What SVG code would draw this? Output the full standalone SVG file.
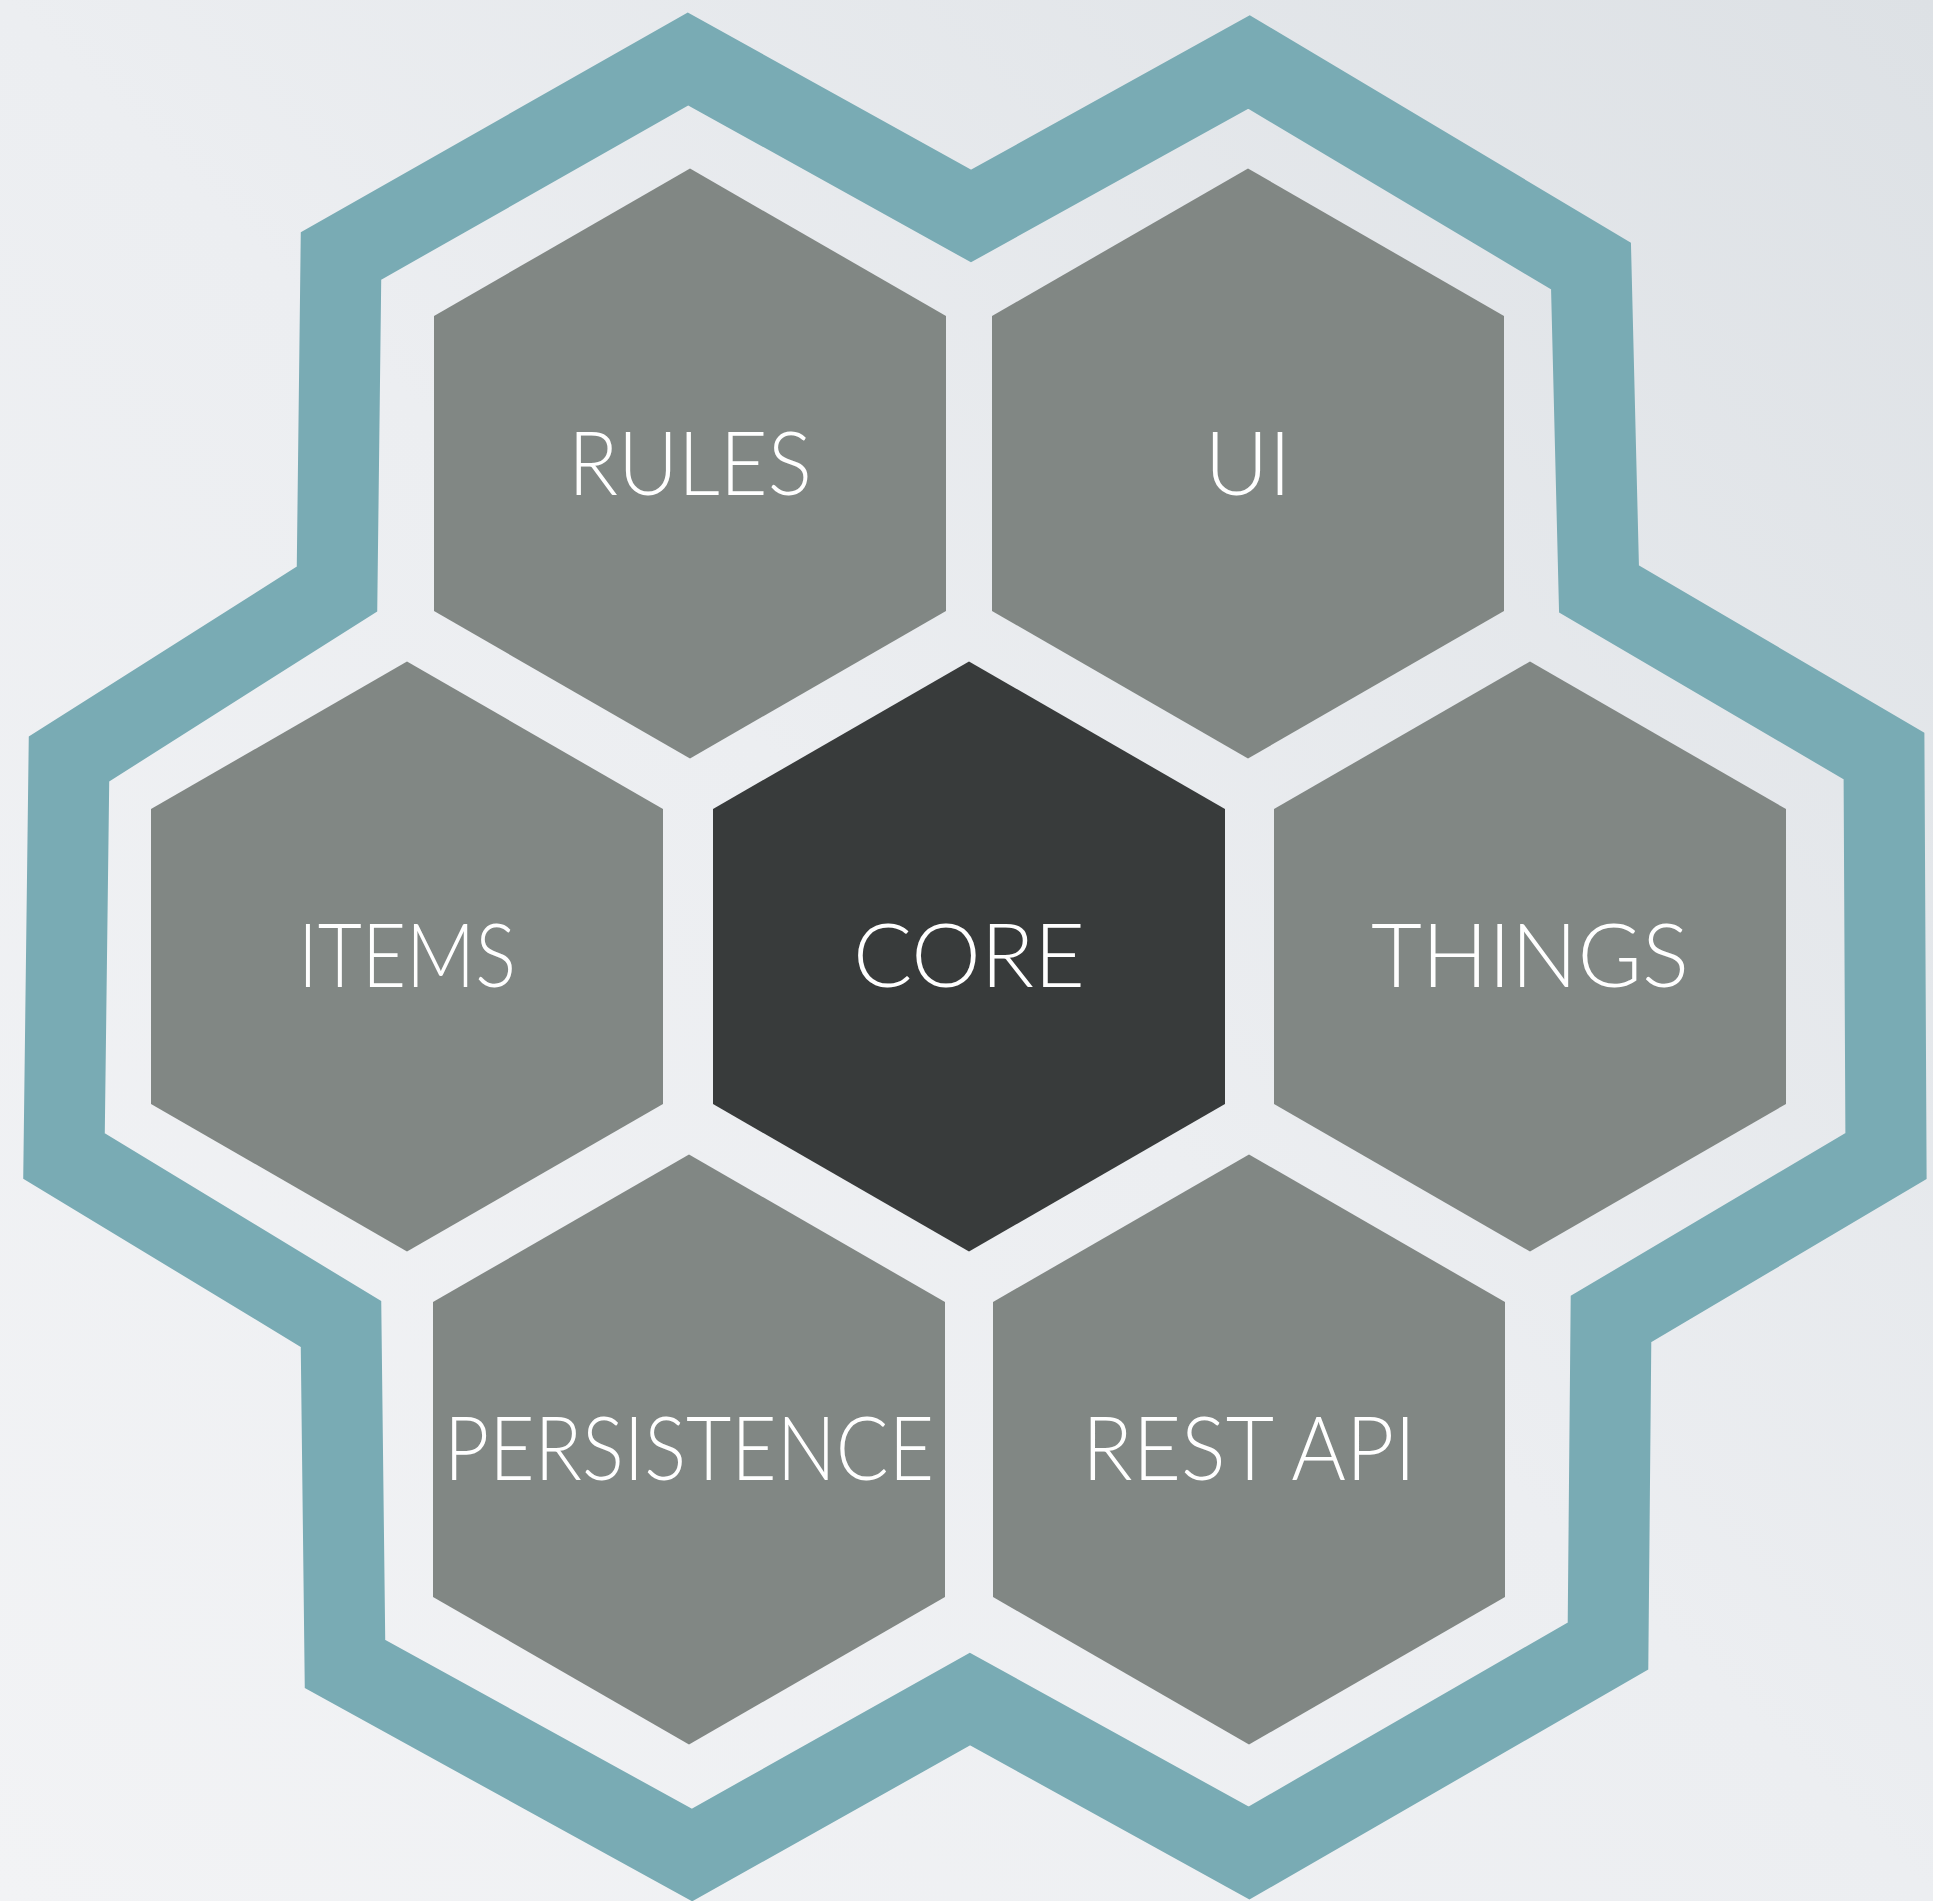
<svg xmlns="http://www.w3.org/2000/svg" width="1933" height="1901" viewBox="0 0 1933 1901">
  <defs>
    <linearGradient id="bg" x1="1" y1="0" x2="0" y2="1">
      <stop offset="0" stop-color="#dde1e5"/>
      <stop offset="0.5" stop-color="#eceef1"/>
      <stop offset="1" stop-color="#f2f3f5"/>
    </linearGradient>
    <polygon id="hex" points="0,-295 256,-147.5 256,147.5 0,295 -256,147.5 -256,-147.5"/>
  </defs>
  <style>
    .hex { fill: #818784; }
    .core { fill: #383b3b; }
    .lbl { font-family: Lato, "Liberation Sans", sans-serif; font-weight: 300; font-size: 88px; fill: #ffffff; text-anchor: middle; }
    .band { fill: none; stroke: #79abb4; stroke-width: 81; stroke-linejoin: miter; stroke-miterlimit: 10; }
  </style>
  <rect x="0" y="0" width="1933" height="1901" fill="url(#bg)"/>

  <g id="connectors">
    <polygon class="band" points="688,59 971,216 1249,62 1591,266 1599,589 1884,756 1886,1156 1611,1319 1608,1646 1249,1853 970,1699 692,1855 345,1664 341,1324 64,1156 69,759 337,589 341,256"/>
  </g>

  <g id="node-rules" transform="translate(690,463.5)">
    <use href="#hex" class="hex"/>
    <text class="lbl" x="0" y="31" textLength="244" lengthAdjust="spacingAndGlyphs">RULES</text>
  </g>
  <g id="node-ui" transform="translate(1248,463.5)">
    <use href="#hex" class="hex"/>
    <text class="lbl" x="0" y="31">UI</text>
  </g>
  <g id="node-items" transform="translate(407,956.5)">
    <use href="#hex" class="hex"/>
    <text class="lbl" x="0" y="30" textLength="218" lengthAdjust="spacingAndGlyphs">ITEMS</text>
  </g>
  <g id="node-core" transform="translate(969,956.5)">
    <use href="#hex" class="core"/>
    <text class="lbl" x="0" y="30" textLength="232" lengthAdjust="spacingAndGlyphs">CORE</text>
  </g>
  <g id="node-things" transform="translate(1530,956.5)">
    <use href="#hex" class="hex"/>
    <text class="lbl" x="0" y="30" textLength="318" lengthAdjust="spacingAndGlyphs">THINGS</text>
  </g>
  <g id="node-persistence" transform="translate(689,1449.5)">
    <use href="#hex" class="hex"/>
    <text class="lbl" x="0" y="30" textLength="490" lengthAdjust="spacingAndGlyphs">PERSISTENCE</text>
  </g>
  <g id="node-restapi" transform="translate(1249,1449.5)">
    <use href="#hex" class="hex"/>
    <text class="lbl" x="0" y="30" textLength="334" lengthAdjust="spacingAndGlyphs">REST API</text>
  </g>
</svg>
